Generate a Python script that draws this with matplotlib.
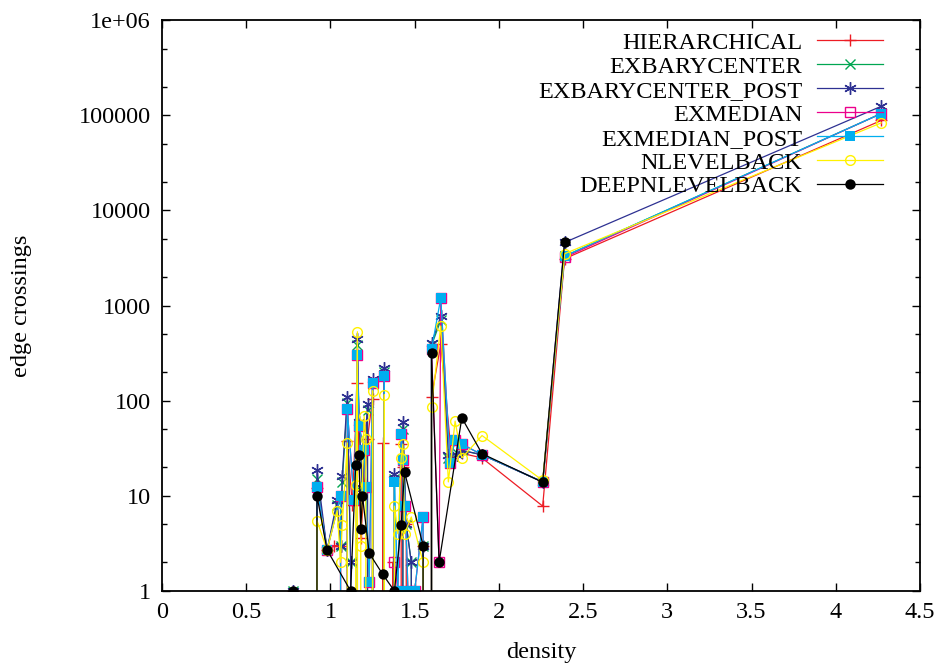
import matplotlib
matplotlib.use("Agg")
import matplotlib.pyplot as plt
from matplotlib.ticker import FixedLocator, FixedFormatter, NullFormatter

# ---- data: edge crossings per graph density, one list pair per algorithm ----
x_hier = [0.78, 0.85, 0.92, 0.98, 1.02, 1.06, 1.08, 1.10, 1.13, 1.16, 1.18, 1.20, 1.22, 1.25,
          1.28, 1.31, 1.35, 1.37, 1.40, 1.42, 1.43, 1.45, 1.50, 1.55, 1.57, 1.60, 1.655, 1.72,
          1.78, 1.90, 2.26, 2.39, 4.27]
y_hier = [1, 0, 12, 2.7, 3, 3, 0, 38, 8, 154, 3.6, 12, 40, 105,
          0, 35.6, 0, 2, 0, 35, 20, 5, 0, 3, 0, 110, 390, 25,
          28, 25, 7.8, 3100, 88000]

x_exbc = [0.78, 0.85, 0.92, 0.98, 1.04, 1.06, 1.07, 1.10, 1.12, 1.14, 1.16, 1.17, 1.19, 1.22,
          1.24, 1.25, 1.28, 1.32, 1.35, 1.38, 1.40, 1.43, 1.45, 1.48, 1.50, 1.55, 1.57, 1.60,
          1.655, 1.70, 1.75, 1.78, 1.90, 2.26, 2.39, 4.27]
y_exbc = [1, 0, 15, 2.7, 8, 3, 14, 95, 2, 0, 380, 55, 11, 80,
          0, 150, 0, 200, 0, 15, 0, 50, 5, 2, 0, 3, 0, 380,
          700, 25, 28, 30, 27, 14, 3300, 104000]

x_exbc_post = [0.78, 0.85, 0.92, 0.98, 1.04, 1.06, 1.07, 1.10, 1.12, 1.14, 1.16, 1.17, 1.19, 1.22,
               1.24, 1.25, 1.28, 1.32, 1.35, 1.38, 1.40, 1.43, 1.45, 1.48, 1.50, 1.55, 1.57, 1.60,
               1.655, 1.70, 1.75, 1.78, 1.90, 2.26, 2.39, 4.27]
y_exbc_post = [1, 0, 18.7, 2.7, 9, 3, 16, 110, 2, 0, 440, 60, 12, 92,
               0, 170, 0, 218, 0, 17, 0, 59, 5, 2, 0, 3, 0, 400,
               770, 27, 27, 30, 27, 14, 4600, 124000]

x_exmed = [0.85, 0.92, 0.98, 1.06, 1.08, 1.10, 1.14, 1.16, 1.17, 1.20, 1.21, 1.23, 1.25, 1.28,
           1.32, 1.35, 1.38, 1.40, 1.42, 1.43, 1.445, 1.46, 1.50, 1.55, 1.57, 1.60, 1.645, 1.655,
           1.71, 1.74, 1.78, 1.90, 2.26, 2.39, 4.27]
y_exmed = [0, 12.4, 2.7, 10, 0, 81, 9, 300, 54, 30, 12.5, 1.25, 153, 0,
           181, 0, 2, 1, 45, 24, 7.9, 1, 1, 6, 0, 345, 2, 1200,
           22, 39, 35, 27, 14, 3200, 104000]

x_exmed_post = [0.85, 0.92, 0.98, 1.06, 1.08, 1.10, 1.14, 1.16, 1.17, 1.20, 1.21, 1.23, 1.25, 1.28,
                1.32, 1.35, 1.38, 1.40, 1.42, 1.43, 1.445, 1.46, 1.50, 1.55, 1.57, 1.60, 1.655,
                1.71, 1.74, 1.78, 1.90, 2.26, 2.39, 4.27]
y_exmed_post = [0, 12.4, 2.7, 10, 0, 81, 9, 300, 54, 30, 12.5, 1.25, 153, 0,
                181, 0, 14, 1, 45, 24, 7.9, 1, 1, 6, 0, 345, 1200,
                22, 39, 35, 27, 14, 3300, 104000]

x_nlevel = [0.85, 0.92, 0.98, 1.04, 1.06, 1.07, 1.10, 1.12, 1.15, 1.16, 1.17, 1.18, 1.20, 1.21,
            1.22, 1.25, 1.28, 1.32, 1.35, 1.38, 1.40, 1.42, 1.43, 1.44, 1.48, 1.55, 1.57, 1.60,
            1.655, 1.70, 1.74, 1.78, 1.90, 2.26, 2.39, 4.27]
y_nlevel = [0, 5.5, 2.7, 7, 2.0, 4.9, 36, 0, 13, 530, 0, 3, 69, 40,
            0, 127, 0, 116, 0, 7.8, 4, 25, 35, 4, 6, 2, 0, 86,
            610, 14, 61, 25, 43, 14.5, 3500, 83000]

x_deep = [0.78, 0.85, 0.92, 0.98, 1.12, 1.15, 1.17, 1.18, 1.19, 1.23, 1.31, 1.38, 1.42, 1.44,
          1.55, 1.57, 1.60, 1.645, 1.78, 1.90, 2.26, 2.39]
y_deep = [1, 0, 10, 2.7, 1, 21, 27, 4.5, 10, 2.5, 1.5, 1, 4.9, 17.8,
          3, 0, 314, 2, 66, 27.7, 13.9, 4600]

series_names = ["HIERARCHICAL", "EXBARYCENTER", "EXBARYCENTER_POST", "EXMEDIAN",
                "EXMEDIAN_POST", "NLEVELBACK", "DEEPNLEVELBACK"]

y_tick_values = [1, 10, 100, 1000, 10000, 100000, 1000000]
y_tick_labels = ["1", "10", "100", "1000", "10000", "100000", "1e+06"]
x_tick_values = [0, 0.5, 1, 1.5, 2, 2.5, 3, 3.5, 4, 4.5]
x_tick_labels = ["0", "0.5", "1", "1.5", "2", "2.5", "3", "3.5", "4", "4.5"]

# ---- styling ----
plt.rcParams["font.family"] = ["Liberation Serif", "DejaVu Serif"]
FS = 17.5

styles = [
    dict(color="#ED1C24", marker="+", ms=8, mfc="none", mew=1.0),
    dict(color="#00A651", marker="x", ms=7, mfc="none", mew=1.0),
    dict(color="#2E3192", marker=(6, 2, 0), ms=9, mfc="none", mew=1.0),
    dict(color="#EC008C", marker="s", ms=7.5, mfc="none", mew=1.0),
    dict(color="#00AEEF", marker="s", ms=7.5, mew=0),
    dict(color="#FFF200", marker="o", ms=7, mfc="none", mew=1.0),
    dict(color="#000000", marker="o", ms=7.5, mew=0),
]

data = [(x_hier, y_hier), (x_exbc, y_exbc), (x_exbc_post, y_exbc_post),
        (x_exmed, y_exmed), (x_exmed_post, y_exmed_post),
        (x_nlevel, y_nlevel), (x_deep, y_deep)]

fig = plt.figure(figsize=(9.34, 6.66), dpi=100)
ax = fig.add_axes([162 / 934, 1 - 591 / 666, (920 - 162) / 934, (591 - 20) / 666])
ax.set_yscale("log", nonpositive="clip")

for name, (xs, ys), st in zip(series_names, data, styles):
    ax.plot(xs, ys, label=name, linewidth=0.9, **st)

ax.set_xlim(0, 4.5)
ax.set_ylim(1, 1e6)

ax.xaxis.set_major_locator(FixedLocator(x_tick_values))
ax.xaxis.set_major_formatter(FixedFormatter(x_tick_labels))
ax.yaxis.set_major_locator(FixedLocator(y_tick_values))
ax.yaxis.set_major_formatter(FixedFormatter(y_tick_labels))
minor = [m * 10 ** e for e in range(0, 6) for m in (2, 5)]
ax.yaxis.set_minor_locator(FixedLocator(minor))
ax.yaxis.set_minor_formatter(NullFormatter())
ax.xaxis.set_minor_locator(FixedLocator([]))

ax.tick_params(which="both", direction="in", top=True, right=True, labelsize=FS)
ax.tick_params(which="major", length=6, width=1.0, pad=8)
ax.tick_params(which="minor", length=3.5, width=1.0)
for sp in ax.spines.values():
    sp.set_linewidth(1.3)

ax.set_xlabel("density", fontsize=FS)
ax.set_ylabel("edge crossings", fontsize=FS)
ax.yaxis.set_label_coords(-0.172, 0.5)
ax.xaxis.set_label_coords(0.5, -0.09)

leg = ax.legend(loc="upper right", bbox_to_anchor=(0.957, 0.988), markerfirst=False,
                frameon=False, fontsize=FS, handlelength=2.7, handletextpad=0.6,
                labelspacing=0.08, borderaxespad=0.0, borderpad=0.2)

fig.savefig("out.png", dpi=100)
